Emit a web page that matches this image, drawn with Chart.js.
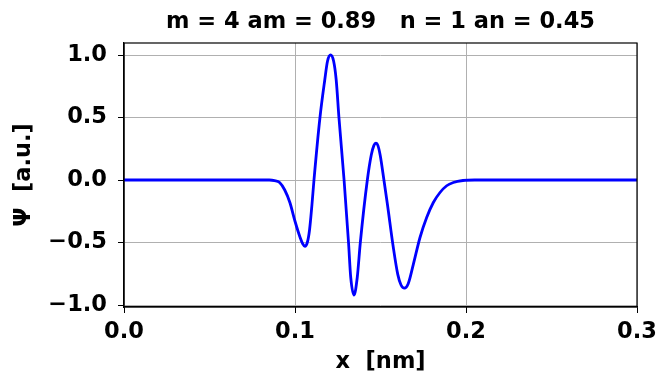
<!DOCTYPE html>
<html>
<head>
<meta charset="utf-8">
<script src="https://cdn.jsdelivr.net/npm/chart.js@4"></script>
<style>
  html, body { margin: 0; padding: 0; background: #fff; }
  #wrap { width: 660px; height: 381px; }
</style>
</head>
<body>
<div id="wrap"><canvas id="psiChart" width="660" height="381"></canvas></div>
<script>
// values
const xValues = [0.000, 0.080, 0.085, 0.088, 0.091, 0.094, 0.097, 0.100, 0.103, 0.1045,
  0.1058, 0.1072, 0.1085, 0.1099, 0.1111, 0.1146, 0.1174, 0.1190, 0.1208, 0.1226,
  0.1241, 0.1257, 0.1287, 0.1313, 0.1326, 0.1345, 0.1364, 0.1382, 0.1423, 0.1446,
  0.1461, 0.1473, 0.1485, 0.1498, 0.1520, 0.1540, 0.1575, 0.1601, 0.1620, 0.1640,
  0.1662, 0.1692, 0.1731, 0.1770, 0.1809, 0.1848, 0.1887, 0.1926, 0.1982, 0.2050, 0.300];
const psiValues = [0, 0, 0, -0.005, -0.02, -0.08, -0.18, -0.33, -0.46, -0.51,
  -0.53, -0.50, -0.40, -0.20, 0.0, 0.5, 0.8, 0.95, 1.0, 0.95,
  0.8, 0.5, 0.0, -0.5, -0.78, -0.92, -0.78, -0.5, 0.0, 0.2,
  0.275, 0.295, 0.275, 0.2, 0.0, -0.19, -0.54, -0.755, -0.84, -0.865,
  -0.83, -0.675, -0.46, -0.30, -0.18, -0.10, -0.046, -0.02, -0.004, 0, 0];
const xTicks = [0.0, 0.1, 0.2, 0.3];
const yTicks = [-1.0, -0.5, 0.0, 0.5, 1.0];
const titleText = "m = 4 am = 0.89   n = 1 an = 0.45";

const font = { family: "'DejaVu Sans', sans-serif", size: 22.5, weight: "bold" };

// title centred over the plot area, plus the full frame round it
const framePlugin = {
  id: "frame",
  afterDraw(chart) {
    const { ctx, chartArea: a } = chart;
    ctx.save();
    ctx.strokeStyle = "#000";
    ctx.lineWidth = 1.2;
    ctx.strokeRect(a.left, a.top, a.right - a.left, a.bottom - a.top);
    ctx.fillStyle = "#000";
    ctx.font = "bold 22.5px 'DejaVu Sans', sans-serif";
    ctx.textAlign = "center";
    ctx.textBaseline = "middle";
    ctx.fillText(titleText, (a.left + a.right) / 2, 22);
    ctx.restore();
  }
};

new Chart(document.getElementById("psiChart"), {
  type: "line",
  data: {
    datasets: [{
      data: xValues.map((x, i) => ({ x: x, y: psiValues[i] })),
      borderColor: "#0000ff",
      borderWidth: 2.8,
      pointRadius: 0,
      fill: false,
      cubicInterpolationMode: "monotone"
    }]
  },
  options: {
    responsive: false,
    animation: false,
    layout: { padding: { left: 0, right: 23, top: 43, bottom: 0 } },
    plugins: { legend: { display: false }, tooltip: { enabled: false }, title: { display: false } },
    scales: {
      x: {
        type: "linear",
        min: 0,
        max: 0.3,
        afterBuildTicks: (s) => { s.ticks = xTicks.map(v => ({ value: v })); },
        afterFit: (s) => { s.height = 74; s.paddingLeft = 0; s.paddingRight = 0; },
        grid: { color: "#b0b0b0", lineWidth: 1, tickColor: "#000", tickLength: 6 },
        border: { color: "#000", width: 1.2 },
        ticks: { color: "#000", font: font, padding: 6, maxRotation: 0,
          callback: (v) => v.toFixed(1) },
        title: { display: true, text: "x  [nm]", color: "#000", font: font,
          padding: { top: 0, bottom: 5 } }
      },
      y: {
        type: "linear",
        min: -1.016,
        max: 1.096,
        afterBuildTicks: (s) => { s.ticks = yTicks.map(v => ({ value: v })); },
        afterFit: (s) => { s.width = 124; s.paddingTop = 0; s.paddingBottom = 0; },
        grid: { color: "#b0b0b0", lineWidth: 1, tickColor: "#000", tickLength: 6 },
        border: { color: "#000", width: 1.2 },
        ticks: { color: "#000", font: font, padding: 11,
          callback: (v) => (v < 0 ? "\u2212" : "") + Math.abs(v).toFixed(1) },
        title: { display: true, text: "\u03a8  [a.u.]", color: "#000", font: font,
          padding: { top: 11, bottom: 0 } }
      }
    }
  },
  plugins: [framePlugin]
});
</script>
</body>
</html>
